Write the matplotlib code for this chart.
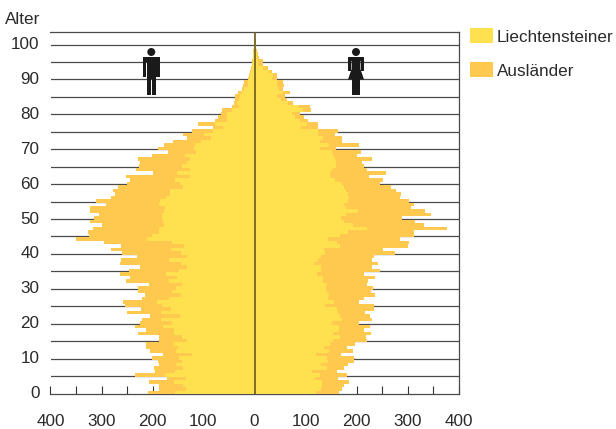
import numpy as np
import matplotlib
matplotlib.use("Agg")
import matplotlib.pyplot as plt
from matplotlib.patches import Rectangle, Ellipse, Polygon

plt.rcParams['font.family'] = ['Liberation Sans', 'DejaVu Sans']

W, H = 616, 429
FS = 12.3

# Bevoelkerung nach Alter (0, 1, 2, ...): Gesamt und davon Liechtensteiner
maenner_gesamt = [209,187,187,207,172,235,195,197,187,190,
                  201,179,205,213,213,188,188,229,213,235,
                  225,221,205,250,222,254,257,221,215,229,
                  229,207,252,244,264,246,225,264,262,231,
                  259,281,262,295,350,324,326,316,299,322,
                  315,305,322,322,291,310,281,274,278,267,
                  250,244,252,199,233,227,225,229,201,170,
                  190,178,160,133,141,123,82,111,78,72,
                  66,63,45,41,39,39,33,25,22,20,
                  12,10,8,6,5,4,3,3,2,1,1,1]
maenner_liecht = [156,135,141,158,135,176,156,141,154,143,
                  149,123,154,150,158,133,143,158,158,179,
                  162,183,147,184,164,182,191,168,145,162,
                  154,143,168,152,174,149,133,145,168,133,
                  145,164,139,162,210,201,188,188,178,179,
                  182,182,177,176,188,186,174,166,166,141,
                  147,156,127,152,127,143,133,127,137,115,
                  119,117,104,86,100,82,61,78,53,53,
                  53,45,31,35,31,29,25,20,12,12,
                  10,8,7,5,4,3,2,2,1,1,1,0]
frauen_gesamt = [165,171,176,186,163,181,161,175,183,196,
                 196,169,194,182,198,220,218,228,214,226,
                 204,231,226,216,235,235,204,214,237,228,
                 233,220,222,237,214,247,230,243,230,235,
                 275,251,300,302,286,312,312,378,333,314,
                 290,347,335,306,312,302,286,288,278,267,
                 247,251,225,257,220,214,210,231,200,208,
                 159,204,171,171,157,163,124,125,104,98,
                 90,110,108,75,63,59,69,55,57,55,
                 45,45,35,27,16,16,8,6,4,3,2,2,1]
frauen_liecht = [120,131,133,133,118,128,112,143,130,145,
                 143,120,147,137,149,153,167,153,165,165,
                 151,171,167,163,161,139,155,145,147,143,
                 141,143,135,135,122,131,130,116,125,131,
                 139,137,167,161,145,167,184,220,194,175,
                 169,180,202,180,176,184,186,184,180,175,
                 171,157,149,149,151,160,159,157,154,151,
                 129,147,129,135,125,125,92,103,90,80,
                 73,96,88,66,51,45,55,49,45,45,
                 35,36,29,16,6,6,4,4,3,2,2,1,0]
tick_alter = list(range(0, 101, 10))
tick_anzahl = [-400,-300,-200,-100,0,100,200,300,400]
legende = ["Liechtensteiner", "Ausländer"]

C_L, C_A = '#FFE14F', '#FFC84F'
DARK = '#1a1a1a'
TXT = '#2a2a2a'

fig = plt.figure(figsize=(W/100, H/100), dpi=100)
x0, x1, ytop, ybot = 50.5, 458.5, 31.7, 394.4
ax = fig.add_axes([x0/W, 1-ybot/H, (x1-x0)/W, (ybot-ytop)/H])
ax.set_xlim(-400, 400)
ax.set_ylim(-0.26, 103.7)
ax.set_axisbelow(True)

def draw(gesamt, liecht, sign):
    g, l = np.array(gesamt), np.array(liecht)
    y = np.arange(len(g)) + 0.24
    ax.barh(y, sign*l, height=1.0, color=C_L, linewidth=0, zorder=2)
    ax.barh(y, sign*(g-l), left=sign*l, height=1.0, color=C_A, linewidth=0, zorder=2)

draw(maenner_gesamt, maenner_liecht, -1)
draw(frauen_gesamt, frauen_liecht, 1)
ax.axvline(0, color='#6b5a20', lw=1.2, zorder=3)

for a in range(5, 101, 5):
    ax.axhline(a, color='#4a4a4a', lw=0.9, zorder=1)

ax.spines['left'].set_visible(False)
for s in ['top', 'right', 'bottom']:
    ax.spines[s].set_color('#4a4a4a')
    ax.spines[s].set_linewidth(0.9)
    ax.spines[s].set_zorder(1)

ax.set_xticks(np.arange(-400, 401, 50))
ax.set_xticklabels([str(abs(v)) if v in tick_anzahl else '' for v in np.arange(-400, 401, 50)],
                   fontsize=FS, color=TXT)
ax.tick_params(axis='x', direction='in', length=6, width=0.8, color='#333333', pad=14)
ax.set_yticks(tick_alter)
ax.set_yticklabels([str(v) for v in tick_alter], fontsize=FS, color=TXT, va='center')
ax.tick_params(axis='y', length=0, pad=8)

def fx(x): return x/W
def fy(y): return 1-y/H
T = fig.transFigure

def rect(x, y, w, h, c):
    fig.add_artist(Rectangle((fx(x), fy(y+h)), w/W, h/H, transform=T, color=c, lw=0))

fig.text(fx(5), fy(19), "Alter", fontsize=FS, color=TXT, va='center', ha='left')

# Legende
for lbl, c, yt in zip(legende, [C_L, C_A], [28, 62]):
    rect(470, yt, 23, 15, c)
    fig.text(fx(497), fy(yt+9), lbl, fontsize=FS, color=TXT, va='center', ha='left')

# Piktogramme
def head(cx):
    fig.add_artist(Ellipse((fx(cx), fy(52)), 8/W, 8/H, transform=T, color=DARK, lw=0))

def man(cx):
    head(cx)
    rect(cx-8.3, 57, 16.6, 5, DARK)
    rect(cx-8.3, 58, 3.4, 19, DARK)
    rect(cx+4.9, 58, 3.4, 19, DARK)
    rect(cx-4.4, 57, 8.8, 22, DARK)
    rect(cx-4.4, 78, 4.1, 17.3, DARK)
    rect(cx+0.3, 78, 4.1, 17.3, DARK)

def woman(cx):
    head(cx)
    rect(cx-8.3, 57, 16.6, 4, DARK)
    rect(cx-8.3, 58, 3.4, 13, DARK)
    rect(cx+4.9, 58, 3.4, 13, DARK)
    pts = [(cx-4.4, 57), (cx+4.4, 57), (cx+4.4, 69), (cx+8, 79.5), (cx-8, 79.5), (cx-4.4, 69)]
    fig.add_artist(Polygon([(fx(a), fy(b)) for a, b in pts], closed=True, transform=T, color=DARK, lw=0))
    rect(cx-4.3, 79, 3.9, 16.3, DARK)
    rect(cx+0.4, 79, 3.9, 16.3, DARK)

man(151.3)
woman(356)

fig.savefig('out.png', dpi=100)
